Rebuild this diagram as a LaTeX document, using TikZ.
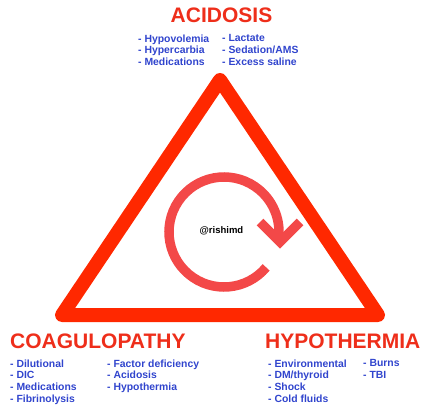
\documentclass[tikz,border=0pt]{standalone}
\usepackage{fontspec}
\setmainfont{Liberation Sans}
\usetikzlibrary{arrows.meta,positioning,calc}
\definecolor{alarmred}{RGB}{255,40,0}
\definecolor{titlered}{RGB}{238,46,26}
\definecolor{loopred}{RGB}{243,72,72}
\definecolor{listblue}{RGB}{48,68,205}

\begin{document}
\begin{tikzpicture}[x=1pt, y=1pt,
  title/.style={font=\fontsize{21}{24}\selectfont\bfseries, text=titlered, inner sep=0pt},
  cause/.style={font=\fontsize{10.4}{11.7}\selectfont\bfseries, text=listblue,
    align=left, inner sep=0pt, anchor=north west},
  edge/.style={draw=alarmred, line width=14pt, line join=round},
  vicious/.style={draw=loopred, line width=9.5pt}
]
\useasboundingbox (0,0) rectangle (428,405);
% triangle
\coordinate (apex) at (220,325);
\coordinate (cl) at (62,90);
\coordinate (cr) at (378,90);
\draw[edge] (apex) -- (cr) -- (cl) -- cycle;
% loop in the middle
\coordinate (hub) at (224,173);
\draw[vicious] ($(hub)+(-40:55)$) arc[start angle=-40, end angle=-370, radius=55];
\draw[vicious, line join=miter] ($(hub)+(36,10)$) -- ($(hub)+(56,-10)$) -- ($(hub)+(76,10)$);
\node[font=\fontsize{9.5}{11}\selectfont\bfseries, inner sep=0pt] (tag) at (221.5,174) {@rishimd};
% acidosis
\node[title, anchor=base] (acid) at (221.5,382) {ACIDOSIS};
\node[cause] (acid1) at (138,370.5) {- Hypovolemia\\- Hypercarbia\\- Medications};
\node[cause] (acid2) at (222,370.5) {- Lactate\\- Sedation/AMS\\- Excess saline};
% coagulopathy
\node[title, anchor=base west] (coag) at (10,57) {COAGULOPATHY};
\node[cause] (coag1) at (10,45.5) {- Dilutional\\- DIC\\- Medications\\- Fibrinolysis};
\node[cause] (coag2) at (107,45.5) {- Factor deficiency\\- Acidosis\\- Hypothermia};
% hypothermia
\node[title, anchor=base west] (hypo) at (265,57) {HYPOTHERMIA};
\node[cause] (hypo1) at (268,45.5) {- Environmental\\- DM/thyroid\\- Shock\\- Cold fluids};
\node[cause] (hypo2) at (363,45.5) {- Burns\\- TBI};
\end{tikzpicture}
\end{document}
